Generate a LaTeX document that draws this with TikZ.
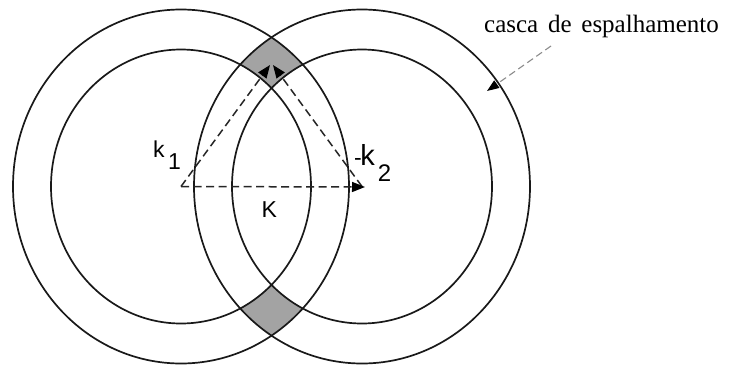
\documentclass[tikz,border=0pt]{standalone}
\usepackage{fontspec}
\setmainfont{Liberation Serif}
\setsansfont{Liberation Sans}
\usetikzlibrary{arrows.meta}
\begin{document}
\begin{tikzpicture}[x=1pt,y=-1pt,
  ring/.style={line width=1.7pt, draw=black!90},
  shellfill/.style={fill=black!36},
  vec/.style={line width=1.5pt, draw=black!85, dash pattern=on 8pt off 4.5pt,
    -{Triangle[length=13pt,width=10pt,color=black]}},
  pointer/.style={line width=1.1pt, draw=black!45, dash pattern=on 7pt off 4pt,
    -{Triangle[length=12pt,width=9pt,color=black]}},
  lab/.style={inner sep=0pt, anchor=base west, font=\sffamily\fontsize{23}{23}\selectfont},
  caption/.style={inner sep=0pt, anchor=base west, font=\rmfamily\fontsize{25}{25}\selectfont}]
\useasboundingbox (0,0) rectangle (730,365);
\fill[white] (0,0) rectangle (730,365);
\coordinate (L) at (181,186.5);
\coordinate (R) at (362,186.5);
\coordinate (T1) at (270,65);
\coordinate (T2) at (273,65);
\coordinate (Kend) at (365,187);
% shaded intersections of the two shells
\begin{scope}[even odd rule]
  \clip (L) ellipse [x radius=168, y radius=177]
        (L) ellipse [x radius=130, y radius=137];
  \fill[shellfill] (R) ellipse [x radius=168, y radius=177]
                   (R) ellipse [x radius=130, y radius=137];
\end{scope}
% circles
\draw[ring] (L) ellipse [x radius=168, y radius=177];
\draw[ring] (L) ellipse [x radius=130, y radius=137];
\draw[ring] (R) ellipse [x radius=168, y radius=177];
\draw[ring] (R) ellipse [x radius=130, y radius=137];
% vectors
\draw[vec] (L) -- (T1);
\draw[vec] (R) -- (T2);
\draw[vec] (L) -- (Kend);
% labels
\node[lab] (k1) at (153,157) {k\kern3.5pt\raisebox{-12.5pt}{1}};
\node[lab, font=\sffamily\fontsize{29}{29}\selectfont] (k2) at (354,165)
  {{\fontsize{23}{23}\selectfont -}\kern-1.5pt k\kern3pt\raisebox{-16.5pt}{\fontsize{24}{24}\selectfont 2}};
\node[lab] (K) at (261.5,217) {K};
% scattering shell caption
\node[caption] (txt) at (484,32) {casca\hspace{0.39em}de\hspace{0.39em}espalhamento};
\coordinate (s0) at (551,46);
\coordinate (s1) at (487,91);
\draw[pointer] (s0) -- (s1);
\end{tikzpicture}
\end{document}
